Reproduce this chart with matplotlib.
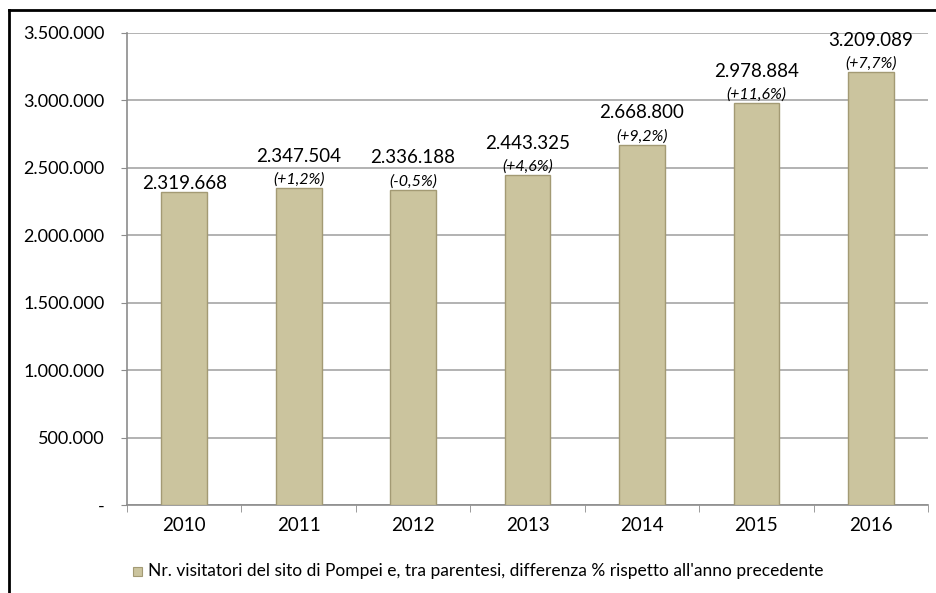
import matplotlib.pyplot as plt
from matplotlib.lines import Line2D
from matplotlib.patches import Rectangle

anni = ['2010', '2011', '2012', '2013', '2014', '2015', '2016']
visitatori = [2319668, 2347504, 2336188, 2443325, 2668800, 2978884, 3209089]
variazioni = [None, '(+1,2%)', '(-0,5%)', '(+4,6%)', '(+9,2%)', '(+11,6%)', '(+7,7%)']
yticks = [0, 500000, 1000000, 1500000, 2000000, 2500000, 3000000, 3500000]

plt.rcParams['font.family'] = ['Lato', 'DejaVu Sans']


def fmt_it(v):
    if v == 0:
        return '-'
    return f'{v:,}'.replace(',', '.')


fig = plt.figure(figsize=(9.36, 5.93), dpi=100)
ax = fig.add_axes([0.1357, 0.1484, 0.9915 - 0.1357, 0.9444 - 0.1484])

x = list(range(len(anni)))
ax.bar(x, visitatori, width=0.4, color='#cbc49e', edgecolor='#a39a74',
       linewidth=1.0, zorder=3)

ax.set_xlim(-0.5, len(anni) - 0.5)
ax.set_ylim(0, 3500000)
ax.set_yticks(yticks)
ax.set_yticklabels([fmt_it(v) for v in yticks], fontsize=13)
ax.set_xticks(x)
ax.set_xticklabels(anni, fontsize=13.5)
ax.set_xticks([i - 0.5 for i in range(len(anni) + 1)], minor=True)
ax.tick_params(axis='x', which='major', length=0, pad=9)
ax.tick_params(axis='x', which='minor', length=5, color='#8c8c8c', direction='out')
ax.tick_params(axis='y', length=4, color='#8c8c8c', pad=12)

ax.grid(axis='y', color='#a6a6a6', linewidth=1.2, zorder=0)
for s in ['top', 'right']:
    ax.spines[s].set_visible(False)
for s in ['left', 'bottom']:
    ax.spines[s].set_color('#8c8c8c')
    ax.spines[s].set_linewidth(1.2)

for i, (v, p) in enumerate(zip(visitatori, variazioni)):
    if p is None:
        ax.annotate(fmt_it(v), (i, v), xytext=(0, 0), textcoords='offset points',
                    ha='center', va='bottom', fontsize=13.5)
    else:
        ax.annotate(p, (i, v), xytext=(0, 1), textcoords='offset points',
                    ha='center', va='bottom', fontsize=11.5, style='italic')
        ax.annotate(fmt_it(v), (i, v), xytext=(0, 17), textcoords='offset points',
                    ha='center', va='bottom', fontsize=13.5)

# legenda in basso
fig.patches.append(Rectangle((133 / 936, 1 - 576 / 593), 9 / 936, 9 / 593,
                             transform=fig.transFigure, facecolor='#cbc49e',
                             edgecolor='#a39a74', linewidth=0.8))
fig.text(148 / 936, 1 - 571 / 593,
         "Nr. visitatori del sito di Pompei e, tra parentesi, differenza % rispetto all'anno precedente",
         fontsize=12.5, va='center', ha='left')

# cornice nera
fig.add_artist(Line2D([9 / 936, 1], [1 - 10 / 593, 1 - 10 / 593],
                      transform=fig.transFigure, color='black', linewidth=2))
fig.add_artist(Line2D([9 / 936, 9 / 936], [0, 1 - 10 / 593],
                      transform=fig.transFigure, color='black', linewidth=2))

fig.savefig('out.png', dpi=100)
